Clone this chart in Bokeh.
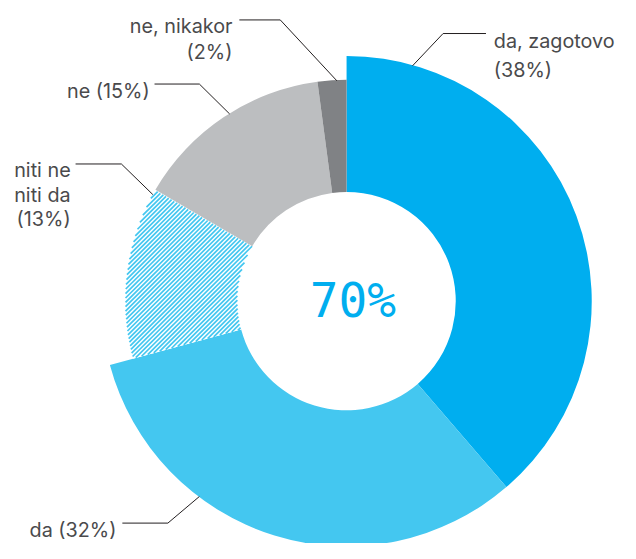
import math
from bokeh.plotting import figure
from bokeh.models import ColumnDataSource, Range1d
from bokeh.embed import file_html
from bokeh.resources import INLINE
from bokeh.core.properties import value

# ---------------- data ----------------
categories = ["da, zagotovo", "da", "niti ne niti da", "ne", "ne, nikakor"]
shares = [38.7, 32.1, 12.6, 14.5, 2.1]          # angular share as drawn (%)
label_pct = [38, 32, 13, 15, 2]                  # percentages printed in labels
label_lines = [
    ["da, zagotovo", f"({label_pct[0]}%)"],
    [f"da ({label_pct[1]}%)"],
    ["niti ne", "niti da", f"({label_pct[2]}%)"],
    [f"ne ({label_pct[3]}%)"],
    ["ne, nikakor", f"({label_pct[4]}%)"],
]
center_value = label_pct[0] + label_pct[1]

# ---------------- style / layout ----------------
colors = ["#00AEEF", "#44C7F0", "#FFFFFF", "#BCBEC0", "#808285"]
striped = [False, False, True, False, False]
stripe_color = "#44C7F0"
stripe_period = 4.5
outer_r = [251.5, 251.5, 227, 227, 227]
inner_r = 112
W, H = 620, 543          # canvas size
REF_W, REF_H = 636, 559  # layout units
cx, cy_s = 355, 309.5
K = W / REF_W


def sy(y):  # layout y (from top) -> data y
    return REF_H - y


cy = sy(cy_s)

# leader geometry: (start_x, start_y, elbow_x, elbow_y, end angle clockwise from top)
leaders = [
    (498, 34, 454, 34, 15.6),
    (125, 538, 171.7, 538, 216.9),
    (77, 168.3, 124, 168.3, 298.9),
    (158, 86, 204, 86, 328.1),
    (245, 20, 287, 20, 357.5),
]
# text placement: (x, align, [baselines])
text_pos = [
    (506, "left", [42, 72]),
    (119, "right", [545]),
    (72, "right", [174.3, 200, 225]),
    (153, "right", [93]),
    (238, "right", [26.7, 53.3]),
]

# ---------------- wedges ----------------
starts, ends, deg_ranges = [], [], []
cum = 0.0
total = sum(shares)
for s in shares:
    a0 = cum / total * 360.0
    cum += s
    a1 = cum / total * 360.0
    deg_ranges.append((a0, a1))
    starts.append(math.radians(90 - a0))
    ends.append(math.radians(90 - a1))

src = ColumnDataSource(dict(
    x=[cx] * 5, y=[cy] * 5, outer=outer_r, start=starts, end=ends,
    color=colors, cat=categories,
))

p = figure(width=W, height=H, x_range=Range1d(0, REF_W), y_range=Range1d(0, REF_H),
           output_backend="svg", toolbar_location=None, min_border=0,
           x_axis_location=None, y_axis_location=None, outline_line_color=None,
           background_fill_color="white", border_fill_color="white")
p.grid.visible = False

p.annular_wedge(x="x", y="y", inner_radius=inner_r, outer_radius="outer",
                start_angle="start", end_angle="end", direction="clock",
                fill_color="color", line_color=None, source=src)

# ---------------- diagonal stripes for the neutral slice ----------------
sx, sy_ = [], []
for i, flag in enumerate(striped):
    if not flag:
        continue
    a0, a1 = deg_ranges[i]
    ro = outer_r[i]

    def inside(px, py):
        dx, dy = px - cx, py - cy
        r = math.hypot(dx, dy)
        if r < inner_r or r > ro:
            return False
        th = math.degrees(math.atan2(dx, dy)) % 360.0  # clockwise from top
        return a0 <= th <= a1

    c = -2 * ro
    while c <= 2 * ro:
        run = None
        step = 0.25
        x = cx - ro - 2
        while x <= cx + ro + 2:
            y = cy + (x - cx) + c
            if inside(x, y):
                if run is None:
                    run = [x, x]
                else:
                    run[1] = x
            elif run is not None:
                sx.append([run[0], run[1]])
                sy_.append([cy + (run[0] - cx) + c, cy + (run[1] - cx) + c])
                run = None
            x += step
        if run is not None:
            sx.append([run[0], run[1]])
            sy_.append([cy + (run[0] - cx) + c, cy + (run[1] - cx) + c])
        c += stripe_period
p.multi_line(xs=sx, ys=sy_, line_color=stripe_color, line_width=1.7)

# ---------------- leaders ----------------
xs, ys = [], []
for (x0, y0, x1, y1, ang), r in zip(leaders, outer_r):
    t = math.radians(ang)
    ex = cx + r * math.sin(t)
    ey = cy + r * math.cos(t)
    xs.append([x0, x1, ex])
    ys.append([sy(y0), sy(y1), ey])
p.multi_line(xs=xs, ys=ys, line_color="#231F20", line_width=1)

# ---------------- labels ----------------
for (tx, align, bls), lines in zip(text_pos, label_lines):
    p.text(x=[tx] * len(lines), y=[sy(b) for b in bls], text=lines,
           text_align=align, text_baseline="alphabetic",
           text_font=value("Inter"), text_font_size=f"{20.3 * K:.1f}px",
           text_color="#4A4A4C")

# ---------------- center value ----------------
p.text(x=[361.5], y=[sy(309)], text=[f"{center_value}%"],
       text_align="center", text_baseline="middle",
       text_font=value("DejaVu Sans Mono"), text_font_size=f"{49 * K:.1f}px",
       text_color="#00AEEF")

open("out.html", "w").write(file_html(p, INLINE))
